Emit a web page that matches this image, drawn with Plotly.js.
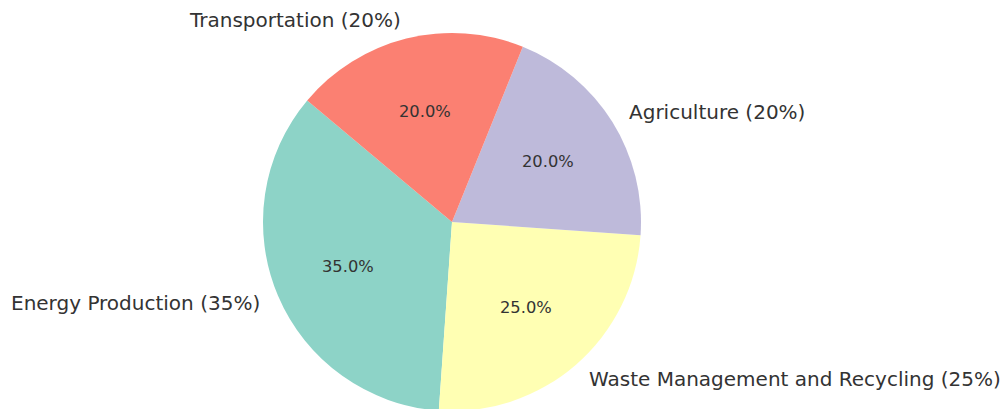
<!DOCTYPE html>
<html>
<head>
<meta charset="utf-8">
<script src="https://cdn.plot.ly/plotly-3.0.1.min.js"></script>
<style>html,body{margin:0;padding:0;background:#fff;overflow:hidden;width:1001px;height:409px}#chart{width:1001px;height:411px}</style>
</head>
<body>
<div id="chart"></div>
<script>
const categories = ["Energy Production", "Waste Management and Recycling", "Agriculture", "Transportation"];
const shares = [35, 25, 20, 20];
const sliceColors = ["#8dd3c7", "#ffffb3", "#bebada", "#fb8072"];

// layout geometry (pixels)
const W = 1001, H = 411;
const CX = 452, CY = 222, R = 189;   // pie centre (from top-left) and radius
const START_DEG = 140;               // first slice starts here, counter-clockwise from +x

const domain = {
  x: [(CX - R) / W, (CX + R) / W],
  y: [(H - CY - R) / H, (H - CY + R) / H]
};

const pieTrace = {
  type: "pie",
  labels: categories,
  values: shares,
  sort: false,
  direction: "counterclockwise",
  rotation: -(START_DEG - 90) - (shares[0] / shares.reduce((a, b) => a + b, 0)) * 360,
  domain: domain,
  automargin: false,
  showlegend: false,
  textinfo: "none",
  hoverinfo: "label+percent",
  marker: {colors: sliceColors, line: {width: 0}}
};

// text placed like the original: labels at 1.1 r, percentages at 0.6 r
const total = shares.reduce((a, b) => a + b, 0);
const annotations = [];
let cum = 0;
shares.forEach((v, i) => {
  const mid = (START_DEG + (cum + v / 2) / total * 360) * Math.PI / 180;
  cum += v;
  const c = Math.cos(mid), s = Math.sin(mid);
  const pct = v / total * 100;
  annotations.push({
    xref: "paper", yref: "paper", showarrow: false,
    x: (CX + 1.1 * R * c) / W, y: (H - CY + 1.1 * R * s) / H,
    xanchor: c >= 0 ? "left" : "right", yanchor: "middle",
    text: categories[i] + " (" + Math.round(pct) + "%)",
    font: {family: "DejaVu Sans", size: 20, color: "#333333"},
    borderpad: 0
  });
  annotations.push({
    xref: "paper", yref: "paper", showarrow: false,
    x: (CX + 0.6 * R * c) / W, y: (H - CY + 0.6 * R * s) / H,
    xanchor: "center", yanchor: "middle",
    text: pct.toFixed(1) + "%",
    font: {family: "DejaVu Sans", size: 16.3, color: "#333333"},
    borderpad: 0
  });
});

Plotly.newPlot("chart", [pieTrace], {
  width: W, height: H,
  margin: {l: 0, r: 0, t: 0, b: 0},
  paper_bgcolor: "#ffffff",
  plot_bgcolor: "#ffffff",
  font: {family: "DejaVu Sans", color: "#333333"},
  annotations: annotations
}, {displayModeBar: false, staticPlot: true});
</script>
</body>
</html>
